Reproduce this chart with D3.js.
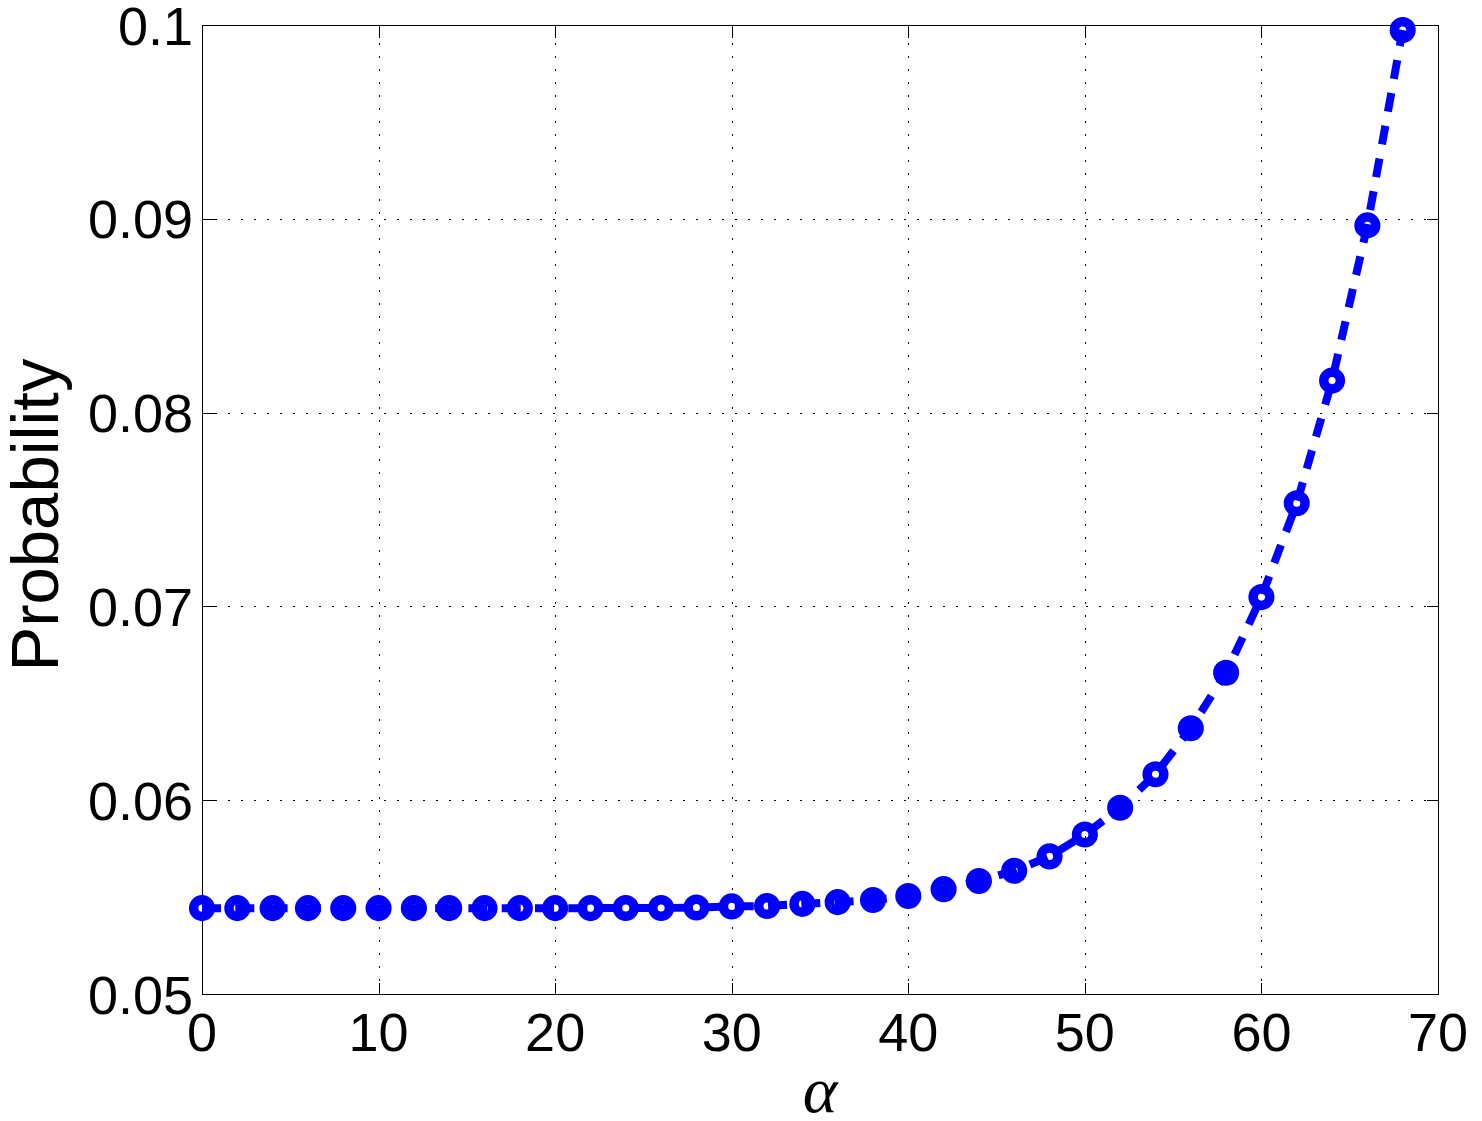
<!DOCTYPE html>
<html>
<head>
<meta charset="utf-8">
<script src="https://cdn.jsdelivr.net/npm/d3@7"></script>
<style>
  html, body { margin: 0; padding: 0; background: #fff; }
  svg { display: block; }
</style>
</head>
<body>
<svg id="chart" width="1482" height="1121"></svg>
<script>
// ---- data ----
const alphaValues = [0, 2, 4, 6, 8, 10, 12, 14, 16, 18, 20, 22, 24, 26, 28, 30, 32, 34,
  36, 38, 40, 42, 44, 46, 48, 50, 52, 54, 56, 58, 60, 62, 64, 66, 68];
const probability = [0.05443, 0.05443, 0.05443, 0.05443, 0.05443, 0.05443, 0.05443, 0.05443,
  0.05443, 0.05443, 0.05443, 0.05443, 0.05444, 0.05444, 0.05446, 0.05452, 0.05454, 0.05465,
  0.05474, 0.05485, 0.05506, 0.05541, 0.05583, 0.05636, 0.05710, 0.05823, 0.05961, 0.06134,
  0.06371, 0.06658, 0.07048, 0.07532, 0.08165, 0.08966, 0.09974];
const xTicks = [0, 10, 20, 30, 40, 50, 60, 70];
const yTicks = [0.05, 0.06, 0.07, 0.08, 0.09, 0.1];
const xLabel = "α";
const yLabel = "Probability";

// ---- layout ----
const L = 202, R = 1438, T = 25, B = 994;
const svg = d3.select("#chart");
const x = d3.scaleLinear().domain([0, 70]).range([L, R]);
const y = d3.scaleLinear().domain([0.05, 0.1]).range([B, T]);
const tickFont = "'Liberation Sans', Arial, Helvetica, sans-serif";

// grid
const grid = svg.append("g").attr("stroke", "#000").attr("stroke-width", 1)
  .attr("stroke-dasharray", "2,11").attr("shape-rendering", "crispEdges");
grid.selectAll(".gx").data(xTicks.filter(d => d > 0 && d < 70)).join("line")
  .attr("x1", d => Math.round(x(d)) + 0.5).attr("x2", d => Math.round(x(d)) + 0.5)
  .attr("y1", B).attr("y2", T);
grid.selectAll(".gy").data(yTicks.filter(d => d > 0.05 && d < 0.1)).join("line")
  .attr("y1", d => Math.round(y(d)) + 0.5).attr("y2", d => Math.round(y(d)) + 0.5)
  .attr("x1", L).attr("x2", R);

// axes (ticks inward, box)
const tickLen = 12;
function styleAxis(g) {
  g.select(".domain").remove();
  g.selectAll(".tick line").attr("stroke", "#000").attr("shape-rendering", "crispEdges");
  g.selectAll("text").remove();
}
svg.append("g").attr("transform", `translate(0,${B + 0.5})`)
  .call(d3.axisBottom(x).tickValues(xTicks).tickSize(-tickLen)).call(styleAxis);
svg.append("g").attr("transform", `translate(0,${T + 0.5})`)
  .call(d3.axisTop(x).tickValues(xTicks).tickSize(-tickLen)).call(styleAxis);
svg.append("g").attr("transform", `translate(${L + 0.5},0)`)
  .call(d3.axisLeft(y).tickValues(yTicks).tickSize(-tickLen)).call(styleAxis);
svg.append("g").attr("transform", `translate(${R + 0.5},0)`)
  .call(d3.axisRight(y).tickValues(yTicks).tickSize(-tickLen)).call(styleAxis);

svg.append("rect").attr("x", L + 0.5).attr("y", T + 0.5)
  .attr("width", R - L).attr("height", B - T)
  .attr("fill", "none").attr("stroke", "#000").attr("stroke-width", 1)
  .attr("shape-rendering", "crispEdges");

// tick labels
svg.append("g").selectAll("text").data(xTicks).join("text")
  .attr("x", d => x(d)).attr("y", 1051)
  .attr("text-anchor", "middle").attr("font-family", tickFont).attr("font-size", 54)
  .text(d => d);
svg.append("g").selectAll("text").data(yTicks).join("text")
  .attr("x", 193).attr("y", d => y(d) + 19.5)
  .attr("text-anchor", "end").attr("font-family", tickFont).attr("font-size", 54)
  .text(d => d3.format("")(+d.toFixed(2)));

// axis labels
svg.append("text").attr("transform", "translate(58,515) rotate(-90)")
  .attr("text-anchor", "middle").attr("font-family", tickFont).attr("font-size", 67)
  .text(yLabel);
svg.append("text").attr("x", 820).attr("y", 1112)
  .attr("text-anchor", "middle")
  .attr("font-family", "'Liberation Serif', 'DejaVu Serif', 'Times New Roman', serif")
  .attr("font-style", "italic")
  .attr("font-size", 66).text(xLabel);

// data line
const data = alphaValues.map((a, i) => [a, probability[i]]);
const line = d3.line().x(d => x(d[0])).y(d => y(d[1]));
svg.append("path").datum(data).attr("d", line)
  .attr("fill", "none").attr("stroke", "#0000ff").attr("stroke-width", 8)
  .attr("stroke-dasharray", "19,14.3").attr("stroke-linecap", "butt");

// markers (open circles, thick edge)
svg.append("g").selectAll("circle").data(data).join("circle")
  .attr("cx", d => x(d[0])).attr("cy", d => y(d[1]))
  .attr("r", 8.3).attr("fill", "none").attr("stroke", "#0000ff").attr("stroke-width", 9.5);
</script>
</body>
</html>
